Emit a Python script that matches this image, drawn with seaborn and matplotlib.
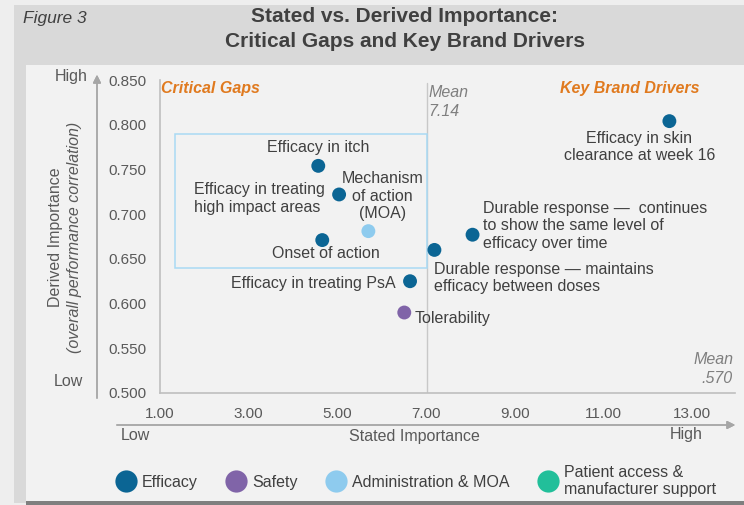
import matplotlib
matplotlib.use("Agg")
import matplotlib.pyplot as plt
from matplotlib import font_manager
from matplotlib.patches import Rectangle
from matplotlib.lines import Line2D
import seaborn as sns
import pandas as pd

# ---------------- data ----------------
labels = [
    "Efficacy in itch",
    "Efficacy in treating\nhigh impact areas",
    "Mechanism\nof action\n(MOA)",
    "Onset of action",
    "Efficacy in treating PsA",
    "Tolerability",
    "Durable response \u2014 maintains\nefficacy between doses",
    "Durable response \u2014  continues\nto show the same level of\nefficacy over time",
    "Efficacy in skin\nclearance at week 16",
]
stated = [4.57, 5.04, 5.70, 4.66, 6.64, 6.51, 7.19, 8.05, 12.49]
derived = [0.754, 0.722, 0.681, 0.671, 0.625, 0.590, 0.660, 0.677, 0.804]
category = ["Efficacy", "Efficacy", "Administration & MOA", "Efficacy", "Efficacy",
            "Safety", "Efficacy", "Efficacy", "Efficacy"]

legend_names = ["Efficacy", "Safety", "Administration & MOA",
                "Patient access &\nmanufacturer support"]
cat_keys = ["Efficacy", "Safety", "Administration & MOA", "Patient access"]
cat_colors = ["#0b6594", "#8064a8", "#8ecbee", "#22bf9a"]

x_ticks = [1, 3, 5, 7, 9, 11, 13]
y_ticks = [0.500, 0.550, 0.600, 0.650, 0.700, 0.750, 0.800, 0.850]
mean_stated = 7.14
mean_line_x = 7.03
mean_derived_label = ".570"
gap_box = (1.34, 0.640, 7.03, 0.790)  # x0, y0, x1, y1 of Critical Gaps box

df = pd.DataFrame({"stated": stated, "derived": derived, "category": category,
                   "label": labels})

# ---------------- fonts ----------------
sns.set_style("white")
names = {f.name for f in font_manager.fontManager.ttflist}
base = "Liberation Sans" if "Liberation Sans" in names else "DejaVu Sans"
narrow = "Liberation Sans Narrow" if "Liberation Sans Narrow" in names else base
plt.rcParams["font.family"] = [base, "DejaVu Sans"]

FS = 11.5
W, H = 744, 505
fig = plt.figure(figsize=(W / 100, H / 100), dpi=100)
fig.patch.set_facecolor("#f2f2f2")

def fx(px):
    return px / W

def fy(py):
    return 1 - py / H

# background panels
fig.patches.append(Rectangle((0, 0), 1, 1, transform=fig.transFigure,
                             facecolor="#eeeeee", edgecolor="none", zorder=-10))
fig.patches.append(Rectangle((fx(14), fy(503)), 1, fy(5) - fy(503), transform=fig.transFigure,
                             facecolor="#d9d9d9", edgecolor="none", zorder=-9))
fig.patches.append(Rectangle((fx(26), fy(501)), 1, fy(65) - fy(501), transform=fig.transFigure,
                             facecolor="#f2f2f2", edgecolor="none", zorder=-8))
fig.patches.append(Rectangle((fx(26), 0), 1, fy(501), transform=fig.transFigure,
                             facecolor="#7f7f7f", edgecolor="none", zorder=-7))

# ---------------- axes ----------------
ax = fig.add_axes([fx(160), fy(393), fx(735) - fx(160), fy(80) - fy(393)])
ax.set_facecolor("none")

palette = dict(zip(cat_keys, cat_colors))
sns.scatterplot(data=df, x="stated", y="derived", hue="category", palette=palette,
                s=100, edgecolor="none", legend=False, ax=ax, zorder=5)

ax.set_xlim(1, 13.97)
ax.set_ylim(0.5, 0.85)
ax.set_xticks(x_ticks)
ax.set_xticklabels([f"{v:.2f}" for v in x_ticks])
ax.set_yticks(y_ticks)
ax.set_yticklabels([f"{v:.3f}" for v in y_ticks])
ax.tick_params(axis="both", colors="#bfbfbf", labelcolor="#595959", labelsize=11,
               length=4, width=1, direction="out")
ax.tick_params(axis="x", pad=6)
ax.tick_params(axis="y", pad=6)
for s in ["top", "right"]:
    ax.spines[s].set_visible(False)
for s in ["left", "bottom"]:
    ax.spines[s].set_color("#bfbfbf")
    ax.spines[s].set_linewidth(1.2)
ax.set_xlabel("")
ax.set_ylabel("")

# mean line
ax.axvline(mean_line_x, ymin=0, ymax=0.99, color="#c8c8c8", lw=1, zorder=1)
# critical gaps box
ax.add_patch(Rectangle((gap_box[0], gap_box[1]), gap_box[2] - gap_box[0],
                       gap_box[3] - gap_box[1], facecolor="none",
                       edgecolor="#a9daf4", lw=1.1, zorder=2))

# point labels
lab_kw = dict(color="#404040", fontsize=FS, linespacing=1.2, zorder=6)
offsets = [  # (dx px, dy px, ha)
    (0, 18, "center"),
    (-14, -4, "right"),
    (14, 35, "center"),
    (4, -13, "center"),
    (-14, -2, "right"),
    (10, -6, "left"),
    (0, -28, "left"),
    (10, 9, "left"),
    (-30, -26, "center"),
]
for (xv, yv, t), (dx, dy, ha) in zip(zip(stated, derived, labels), offsets):
    ax.annotate(t, (xv, yv), xytext=(dx * 0.72, dy * 0.72), textcoords="offset points",
                ha=ha, va="center", multialignment="center" if ha == "center" else "left",
                **lab_kw)

# quadrant titles
fig.text(fx(161), fy(89), "Critical Gaps", color="#e07a1f", fontsize=11.5,
         fontweight="bold", style="italic", ha="left", va="center")
fig.text(fx(700), fy(89), "Key Brand Drivers", color="#e07a1f", fontsize=11.5,
         fontweight="bold", style="italic", ha="right", va="center")
fig.text(fx(428), fy(102), "Mean\n" + f"{mean_stated:.2f}", color="#7f7f7f", fontsize=FS,
         style="italic", ha="left", va="center", linespacing=1.3)
fig.text(fx(733), fy(369), "Mean\n" + mean_derived_label, color="#7f7f7f", fontsize=FS,
         style="italic", ha="right", va="center", linespacing=1.3, multialignment="right")

# axis arrows and labels
fig.add_artist(plt.annotate("", xy=(fx(97), fy(72)), xytext=(fx(97), fy(401)),
                            xycoords="figure fraction", textcoords="figure fraction",
                            arrowprops=dict(arrowstyle="-|>", color="#a6a6a6", lw=1,
                                            mutation_scale=12)))
fig.add_artist(plt.annotate("", xy=(fx(738), fy(425)), xytext=(fx(114), fy(425)),
                            xycoords="figure fraction", textcoords="figure fraction",
                            arrowprops=dict(arrowstyle="-|>", color="#a6a6a6", lw=1,
                                            mutation_scale=12)))
fig.text(fx(88), fy(77), "High", color="#595959", fontsize=FS, ha="right", va="center")
fig.text(fx(83), fy(382), "Low", color="#595959", fontsize=FS, ha="right", va="center")
fig.text(fx(121), fy(435), "Low", color="#595959", fontsize=FS, ha="left", va="center")
fig.text(fx(703), fy(435), "High", color="#595959", fontsize=FS, ha="right", va="center")
fig.text(fx(414), fy(437), "Stated Importance", color="#595959", fontsize=FS,
         ha="center", va="center")
fig.text(fx(56), fy(237), "Derived Importance", color="#595959", fontsize=FS,
         ha="center", va="center", rotation=90)
fig.text(fx(74), fy(237), "(overall performance correlation)", color="#595959",
         fontsize=FS, style="italic", ha="center", va="center", rotation=90)

# titles
fig.text(fx(23), fy(18), "Figure 3", color="#404040", fontsize=12.5, style="italic",
         ha="left", va="center")
fig.text(fx(405), fy(29), "Stated vs. Derived Importance:\nCritical Gaps and Key Brand Drivers",
         color="#404040", fontsize=15, fontweight="bold", family=[narrow, "DejaVu Sans"],
         ha="center", va="center", linespacing=1.4)

# legend
handles = [Line2D([], [], marker="o", ls="none", markersize=16, markerfacecolor=c,
                  markeredgecolor="none") for c in cat_colors]
leg = fig.legend(handles, legend_names, loc="center left",
                 bbox_to_anchor=(fx(101), fy(481)), ncol=4, frameon=False,
                 fontsize=FS, handletextpad=0.35, columnspacing=1.75,
                 handlelength=1.3, labelcolor="#404040")

fig.savefig("out.png", dpi=100, facecolor=fig.get_facecolor())
